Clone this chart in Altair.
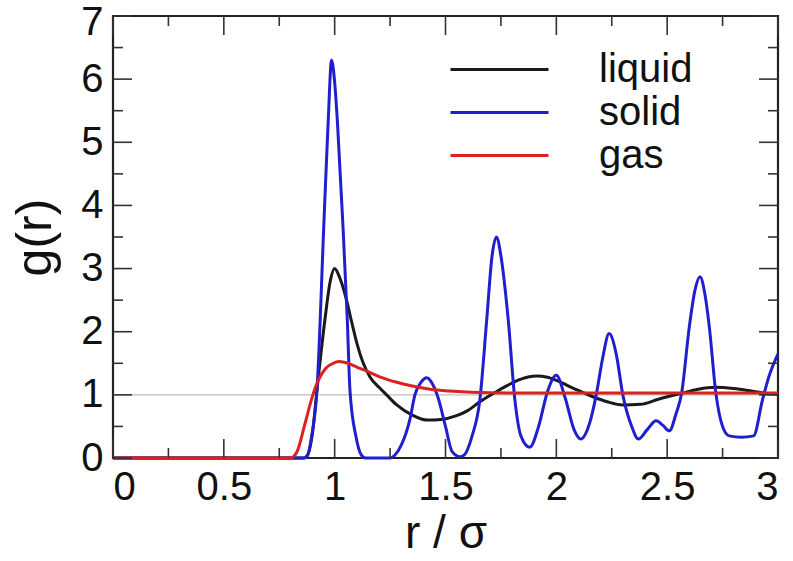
import altair as alt
import pandas as pd

# Radial distribution function g(r) for three phases of a simple fluid
phases = ["liquid", "solid", "gas"]
phase_colors = ["#1a1a1a", "#1f1fcf", "#dc2020"]

r_liquid = [0.0, 0.86, 0.875, 0.90, 0.92, 0.956, 0.98, 1.00, 1.02, 1.05, 1.077, 1.10,
            1.127, 1.16, 1.20, 1.234, 1.28, 1.35, 1.42, 1.48, 1.55, 1.60, 1.655, 1.72,
            1.78, 1.84, 1.91, 1.96, 2.00, 2.08, 2.165, 2.23, 2.30, 2.38, 2.46, 2.56,
            2.64, 2.72, 2.80, 2.88, 2.95, 3.00]
g_liquid = [0.0, 0.0, 0.03, 0.40, 1.07, 2.19, 2.80, 3.00, 2.88, 2.55, 2.15, 1.82,
            1.52, 1.28, 1.12, 1.00, 0.84, 0.68, 0.60, 0.61, 0.67, 0.75, 0.89, 1.03,
            1.15, 1.25, 1.30, 1.28, 1.23, 1.10, 0.97, 0.89, 0.84, 0.85, 0.93, 1.02,
            1.09, 1.12, 1.10, 1.06, 1.02, 1.01]

r_solid = [0.0, 0.86, 0.875, 0.896, 0.92, 0.952, 0.971, 0.986, 1.000, 1.012, 1.036,
           1.057, 1.069, 1.096, 1.12, 1.14, 1.25, 1.27, 1.30, 1.34, 1.362, 1.39, 1.415,
           1.44, 1.467, 1.50, 1.53, 1.565, 1.585, 1.62, 1.655, 1.686, 1.71, 1.73, 1.75,
           1.783, 1.813, 1.84, 1.88, 1.92, 1.96, 2.00, 2.04, 2.08, 2.11, 2.15, 2.18,
           2.21, 2.238, 2.27, 2.30, 2.34, 2.37, 2.41, 2.45, 2.48, 2.51, 2.54, 2.565,
           2.60, 2.625, 2.648, 2.67, 2.69, 2.72, 2.75, 2.78, 2.835, 2.89, 2.93, 2.96,
           3.00]
g_solid = [0.0, 0.0, 0.02, 0.34, 1.07, 3.77, 5.35, 6.30, 5.95, 5.35, 3.77,
           2.19, 1.07, 0.34, 0.05, 0.0, 0.0, 0.04, 0.20, 0.62, 1.00, 1.20, 1.27,
           1.18, 0.95, 0.50, 0.10, 0.02, 0.05, 0.35, 0.92, 2.19, 3.20, 3.50, 3.20,
           2.19, 0.92, 0.35, 0.17, 0.50, 1.05, 1.31, 0.95, 0.45, 0.30, 0.55, 1.00,
           1.60, 1.97, 1.65, 1.00, 0.50, 0.30, 0.45, 0.59, 0.52, 0.43, 0.70, 1.02,
           2.08, 2.65, 2.87, 2.60, 2.08, 1.02, 0.50, 0.35, 0.33, 0.35, 0.92, 1.30,
           1.65]

r_gas = [0.0, 0.80, 0.83, 0.865, 0.90, 0.925, 0.96, 1.00, 1.02, 1.06, 1.10, 1.135,
         1.20, 1.28, 1.35, 1.43, 1.52, 1.62, 1.80, 2.20, 2.60, 3.00]
g_gas = [0.0, 0.0, 0.10, 0.53, 0.98, 1.22, 1.42, 1.51, 1.53, 1.50, 1.44, 1.39,
         1.29, 1.20, 1.14, 1.09, 1.06, 1.04, 1.03, 1.03, 1.03, 1.03]

x_major = [0, 0.5, 1, 1.5, 2, 2.5, 3]
x_minor = [0.25, 0.75, 1.25, 1.75, 2.25, 2.75]
y_major = [0, 1, 2, 3, 4, 5, 6, 7]
y_minor = [0.5, 1.5, 2.5, 3.5, 4.5, 5.5, 6.5]
reference_level = [1.0]

rows = []
for name, rs, gs in [("liquid", r_liquid, g_liquid),
                     ("solid", r_solid, g_solid),
                     ("gas", r_gas, g_gas)]:
    for i, (r, g) in enumerate(zip(rs, gs)):
        rows.append({"r": r, "g": g, "phase": name, "idx": i})
curves = pd.DataFrame(rows)

W, H = 665, 442
FONT = "Liberation Sans"
TICK = "#333333"
MAJOR, MINOR = 19, 10

xs = alt.Scale(domain=[0, 3], nice=False, zero=False)
ys = alt.Scale(domain=[0, 7], nice=False, zero=False)

# one axis definition per direction, shared by every layer so they merge cleanly
x_axis = alt.Axis(values=x_major, format="~g", title="r / σ",
                  labelFontSize=40, labelPadding=9, titleFontSize=46,
                  titlePadding=4)
# the topmost label is nudged down so it stays inside the canvas
y_axis = alt.Axis(values=y_major, format="d", title="g(r)",
                  labelFontSize=40, labelPadding=10, titleFontSize=50,
                  titlePadding=20,
                  labelOffset={"condition": {"test": "datum.value === 7",
                                             "value": 6},
                               "value": 0})

ref = alt.Chart(pd.DataFrame({"g": reference_level})).mark_rule(
    color="#bdbdbd", strokeWidth=1.2
).encode(y=alt.Y("g:Q", scale=ys, axis=y_axis))

# legend key: a long horizontal stroke drawn from a compact symbol box
key_path = "M-2.45,0H2.45"

lines = alt.Chart(curves).mark_line(strokeWidth=3, interpolate="monotone").encode(
    x=alt.X("r:Q", scale=xs, axis=x_axis),
    y=alt.Y("g:Q", scale=ys, axis=y_axis),
    color=alt.Color("phase:N",
                    scale=alt.Scale(domain=phases, range=phase_colors),
                    sort=phases,
                    legend=alt.Legend(title=None, orient="none", legendX=365,
                                      legendY=32, symbolType=key_path,
                                      symbolSize=1600, symbolStrokeWidth=3,
                                      labelFontSize=40, labelFont=FONT,
                                      labelColor="#111111", labelOffset=78,
                                      rowPadding=1)),
    order=alt.Order("idx:Q"),
)


def x_ticks(values, length, top):
    df = pd.DataFrame({"r": values})
    y0, y1 = (0, length) if top else (H, H - length)
    return alt.Chart(df).mark_rule(color=TICK, strokeWidth=1.6).encode(
        x=alt.X("r:Q", scale=xs, axis=x_axis),
        y=alt.value(y0), y2=alt.value(y1))


def y_ticks(values, length, right):
    df = pd.DataFrame({"g": values})
    x0, x1 = (W, W - length) if right else (0, length)
    return alt.Chart(df).mark_rule(color=TICK, strokeWidth=1.6).encode(
        y=alt.Y("g:Q", scale=ys, axis=y_axis),
        x=alt.value(x0), x2=alt.value(x1))


ticks = [
    x_ticks(x_major, MAJOR, False), x_ticks(x_minor, MINOR, False),
    x_ticks(x_major, MAJOR, True), x_ticks(x_minor, MINOR, True),
    y_ticks(y_major, MAJOR, False), y_ticks(y_minor, MINOR, False),
    y_ticks(y_major, MAJOR, True), y_ticks(y_minor, MINOR, True),
]

chart = alt.layer(ref, lines, *ticks).properties(
    width=W, height=H,
    autosize=alt.AutoSizeParams(type="none"),
    padding={"left": 113, "top": 16, "right": 15, "bottom": 103},
).configure_view(
    stroke="#222222", strokeWidth=2.2
).configure_axis(
    grid=False, domain=False, ticks=False,
    labelFont=FONT, titleFont=FONT,
    labelColor="#111111", titleColor="#111111",
    titleFontWeight="normal",
)

chart.save("out.html", embed_options={"renderer": "svg", "actions": False})
